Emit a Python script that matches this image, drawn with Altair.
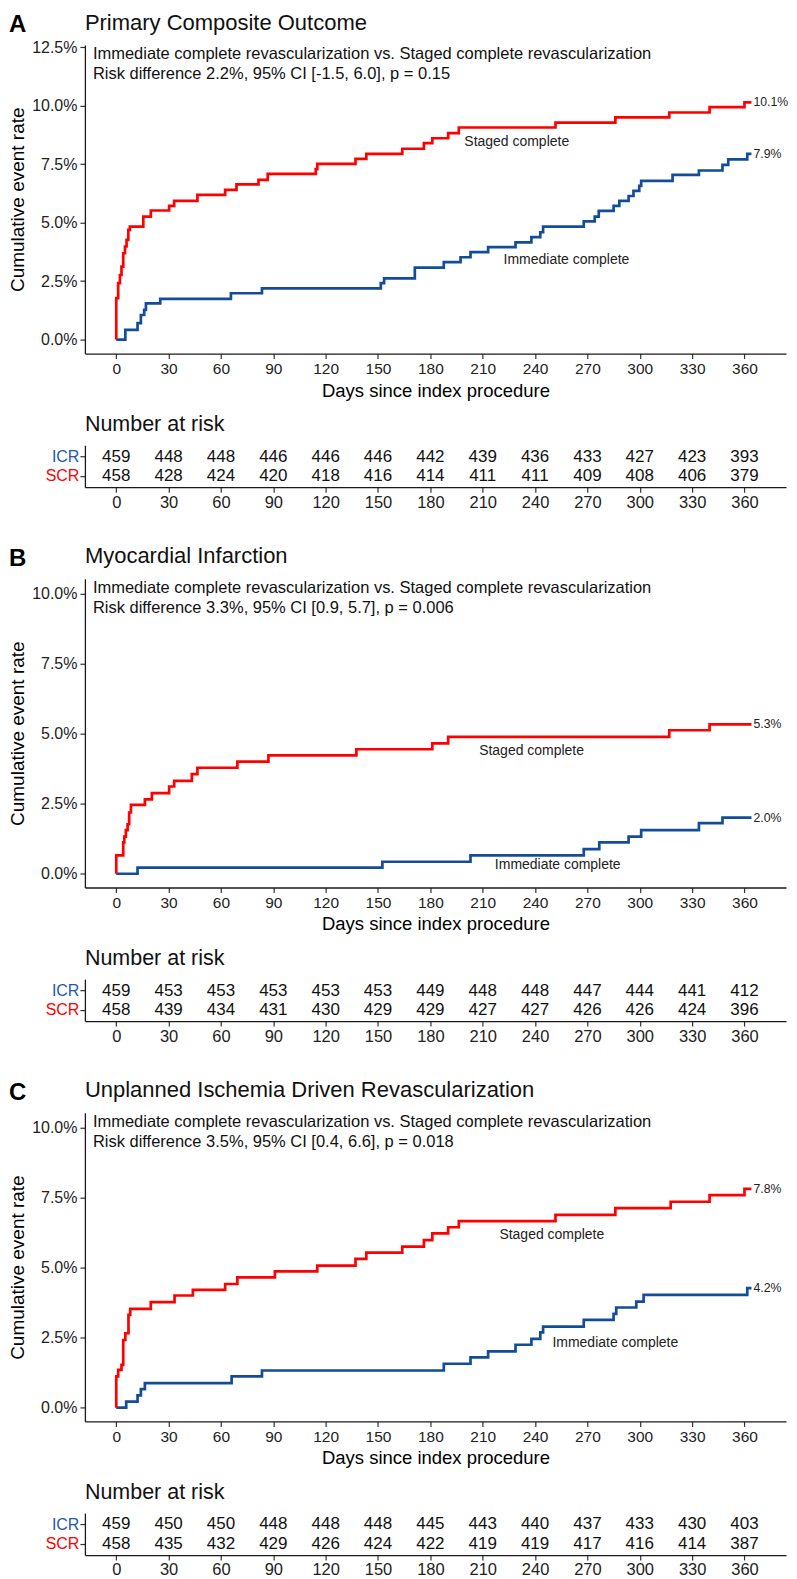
import altair as alt
import pandas as pd

BLUE = "#134d99"
RED = "#ff0000"
FONT = "Liberation Sans"

TICK_DAYS = [0, 30, 60, 90, 120, 150, 180, 210, 240, 270, 300, 330, 360]
GROUPS = ["ICR", "SCR"]
CURVE_NAMES = ["Immediate complete", "Staged complete"]
X_DOMAIN = [-17.97, 383.8]
X_TITLE = "Days since index procedure"
Y_TITLE = "Cumulative event rate"
RISK_TITLE = "Number at risk"

# ---------------- Panel A ----------------
A_LETTER = "A"
A_TITLE = "Primary Composite Outcome"
A_NOTE = ["Immediate complete revascularization vs. Staged complete revascularization",
          "Risk difference 2.2%, 95% CI [-1.5, 6.0], p = 0.15"]
A_ICR_DAY = [0, 5.2, 12.2, 14.1, 16, 17, 25.2, 65.7, 83.5, 151.6, 153.5, 171.1, 187.7, 197.3, 203,
             213.1, 228.8, 237.9, 243, 244.6, 267.9, 274.2, 276.5, 285, 288.3, 293.6, 296.4, 299.7,
             300.8, 318.8, 333.9, 347.4, 350.7, 361.6, 364]
A_ICR_PCT = [0, 0.41, 0.7, 1.05, 1.27, 1.55, 1.74, 1.98, 2.19, 2.41, 2.62, 3.08, 3.31, 3.52, 3.74,
             3.95, 4.16, 4.38, 4.59, 4.83, 5.05, 5.26, 5.5, 5.72, 5.93, 6.14, 6.36, 6.57,
             6.79, 7.04, 7.23, 7.47, 7.71, 7.94, 7.94]
A_SCR_DAY = [0, 0, 1.1, 2.1, 3.0, 4.0, 5.0, 5.9, 6.9, 7.8, 15.5, 19.8, 30.3, 33.2, 46.5, 62.4, 68.9,
             81.5, 86.8, 114.3, 115.2, 137.1, 143.3, 163.9, 176.3, 181.1, 190.2, 196.3, 251.7, 286,
             316.9, 340, 360, 364]
A_SCR_PCT = [0, 1.77, 2.41, 2.76, 3.12, 3.69, 3.98, 4.26, 4.69, 4.83, 5.26, 5.52, 5.72, 5.93, 6.19,
             6.4, 6.64, 6.83, 7.09, 7.29, 7.51, 7.73, 7.94, 8.16, 8.4, 8.61, 8.83, 9.07, 9.28, 9.5,
             9.71, 9.94, 10.14, 10.14]
A_END_LABEL = ["7.9%", "10.1%"]
A_NAME_DAY = [258, 229.5]
A_NAME_PCT = [3.4, 8.46]
A_Y_TICKS = [0, 2.5, 5, 7.5, 10, 12.5]
A_Y_DOMAIN = [-0.6, 12.6]
A_RISK_ICR = [459, 448, 448, 446, 446, 446, 442, 439, 436, 433, 427, 423, 393]
A_RISK_SCR = [458, 428, 424, 420, 418, 416, 414, 411, 411, 409, 408, 406, 379]

# ---------------- Panel B ----------------
B_LETTER = "B"
B_TITLE = "Myocardial Infarction"
B_NOTE = ["Immediate complete revascularization vs. Staged complete revascularization",
          "Risk difference 3.3%, 95% CI [0.9, 5.7], p = 0.006"]
B_ICR_DAY = [0, 12.2, 152.5, 203, 267.9, 276.8, 293.6, 300.8, 333.9, 347.4, 364]
B_ICR_PCT = [0, 0.22, 0.43, 0.66, 0.88, 1.12, 1.33, 1.56, 1.81, 2.01, 2.01]
B_SCR_DAY = [0, 0, 4.0, 4.6, 5.5, 6.5, 7.4, 8.4, 16.4, 20.4, 30.3, 33.2, 43.3, 46.5, 69.4, 87.2,
             137.6, 181.1, 190.2, 316.9, 340, 364]
B_SCR_PCT = [0, 0.66, 1.12, 1.33, 1.56, 1.77, 2.19, 2.46, 2.66, 2.88, 3.12, 3.32, 3.56, 3.79, 4.01,
             4.23, 4.45, 4.66, 4.89, 5.13, 5.34, 5.34]
B_END_LABEL = ["2.0%", "5.3%"]
B_NAME_DAY = [253, 238]
B_NAME_PCT = [0.31, 4.39]
B_Y_TICKS = [0, 2.5, 5, 7.5, 10]
B_Y_DOMAIN = [-0.49, 10.54]
B_RISK_ICR = [459, 453, 453, 453, 453, 453, 449, 448, 448, 447, 444, 441, 412]
B_RISK_SCR = [458, 439, 434, 431, 430, 429, 429, 427, 427, 426, 426, 424, 396]

# ---------------- Panel C ----------------
C_LETTER = "C"
C_TITLE = "Unplanned Ischemia Driven Revascularization"
C_NOTE = ["Immediate complete revascularization vs. Staged complete revascularization",
          "Risk difference 3.5%, 95% CI [0.4, 6.6], p = 0.018"]
C_ICR_DAY = [0, 5.7, 12.2, 14.1, 16.4, 66.1, 83.5, 187.7, 203, 213.1, 228.8, 237.9, 243, 244.6,
             267.9, 285, 286.5, 298, 302.2, 361.6, 364]
C_ICR_PCT = [0, 0.22, 0.44, 0.66, 0.88, 1.12, 1.33, 1.57, 1.8, 2.01, 2.25, 2.46, 2.69, 2.9,
             3.14, 3.35, 3.58, 3.79, 4.03, 4.27, 4.27]
C_SCR_DAY = [0, 0, 1.1, 3, 4, 5.2, 7, 8, 19.8, 33.4, 43.9, 62.4, 69.4, 90.9, 115.2, 137.1, 143.3,
             163.9, 176.3, 181.1, 190.2, 196.3, 251.7, 286, 317.7, 340, 360, 364]
C_SCR_PCT = [0, 1.12, 1.35, 1.53, 2.42, 2.66, 3.32, 3.53, 3.77, 4.01, 4.21, 4.42, 4.66, 4.87, 5.08,
             5.32, 5.54, 5.76, 5.99, 6.23, 6.45, 6.67, 6.89, 7.13, 7.36, 7.6, 7.82, 7.82]
C_END_LABEL = ["4.2%", "7.8%"]
C_NAME_DAY = [286, 249.6]
C_NAME_PCT = [2.31, 6.17]
C_Y_TICKS = [0, 2.5, 5, 7.5, 10]
C_Y_DOMAIN = [-0.49, 10.54]
C_RISK_ICR = [459, 450, 450, 448, 448, 448, 445, 443, 440, 437, 433, 430, 403]
C_RISK_SCR = [458, 435, 432, 429, 426, 424, 422, 419, 419, 417, 416, 414, 387]

PLOT_W = 702
KM_H = 309
RISK_H = 42


def x_scale():
    return alt.Scale(domain=X_DOMAIN, nice=False, zero=False)


def km_chart(letter, title, note, icr_day, icr_pct, scr_day, scr_pct, end_labels,
             name_day, name_pct, yticks, ydomain, note_top):
    rows = []
    for g, days, pcts in ((GROUPS[0], icr_day, icr_pct), (GROUPS[1], scr_day, scr_pct)):
        for i, (d, p) in enumerate(zip(days, pcts)):
            rows.append({"day": d, "pct": p, "group": g, "idx": i})
    df = pd.DataFrame(rows)
    ys = alt.Scale(domain=ydomain, nice=False, zero=False)
    color = alt.Color("group:N", scale=alt.Scale(domain=GROUPS, range=[BLUE, RED]), legend=None)

    lines = alt.Chart(df).mark_line(interpolate="step-after", strokeWidth=2.7).encode(
        x=alt.X("day:Q", scale=x_scale(),
                axis=alt.Axis(values=TICK_DAYS, title=X_TITLE, titleFontSize=18.5,
                              labelFontSize=15.5, labelPadding=3, titlePadding=4,
                              labelFlush=False)),
        y=alt.Y("pct:Q", scale=ys,
                axis=alt.Axis(values=yticks, labelExpr="format(datum.value, '.1f') + '%'",
                              title=Y_TITLE, titleFontSize=19, labelFontSize=16,
                              labelPadding=3, titlePadding=4, labelFlush=False)),
        color=color,
        order="idx:Q",
    )
    end_df = pd.DataFrame({"day": [icr_day[-1], scr_day[-1]],
                           "pct": [icr_pct[-1], scr_pct[-1]],
                           "label": end_labels})
    ends = alt.Chart(end_df).mark_text(align="left", baseline="middle", dx=2, fontSize=12.3,
                                       color="#222222").encode(
        x=alt.X("day:Q", scale=x_scale()), y=alt.Y("pct:Q", scale=ys), text="label:N")
    names_df = pd.DataFrame({"day": name_day, "pct": name_pct, "label": CURVE_NAMES})
    names = alt.Chart(names_df).mark_text(align="center", baseline="middle", fontSize=14,
                                          color="#222222").encode(
        x=alt.X("day:Q", scale=x_scale()), y=alt.Y("pct:Q", scale=ys), text="label:N")
    note_df = pd.DataFrame({"t": ["\n".join(note)]})
    note_mark = alt.Chart(note_df).mark_text(align="left", baseline="top", fontSize=16.5,
                                             lineHeight=20, lineBreak="\n",
                                             color="#111111").encode(
        x=alt.value(8), y=alt.value(note_top), text="t:N")
    letter_df = pd.DataFrame({"t": [letter]})
    letter_mark = alt.Chart(letter_df).mark_text(align="left", baseline="alphabetic",
                                                 fontSize=24, fontWeight="bold",
                                                 color="#000000").encode(
        x=alt.value(-76), y=alt.value(-13), text="t:N")
    return alt.layer(lines, ends, names, note_mark, letter_mark).properties(
        width=PLOT_W, height=KM_H,
        title=alt.Title(title, anchor="start", frame="group", fontSize=22,
                        fontWeight="normal", baseline="alphabetic", offset=-38.6,
                        color="#111111"))


def risk_chart(icr, scr):
    df = pd.DataFrame({"day": TICK_DAYS * 2,
                       "group": [GROUPS[0]] * len(icr) + [GROUPS[1]] * len(scr),
                       "n": icr + scr})
    return alt.Chart(df).mark_text(fontSize=17, baseline="middle", align="center",
                                   color="#111111").encode(
        x=alt.X("day:Q", scale=x_scale(),
                axis=alt.Axis(values=TICK_DAYS, title=None, labelFontSize=16.5,
                              labelPadding=2, labelFlush=False)),
        y=alt.Y("group:N", scale=alt.Scale(type="point", domain=GROUPS, padding=0.59),
                axis=alt.Axis(title=None, labelFontSize=16, labelPadding=1,
                              labelColor=alt.condition("datum.value == 'ICR'",
                                                       alt.value("#1f5aa8"),
                                                       alt.value(RED)))),
        text="n:Q",
    ).properties(
        width=PLOT_W, height=RISK_H,
        title=alt.Title(RISK_TITLE, anchor="start", frame="group", fontSize=21.5,
                        fontWeight="normal", baseline="alphabetic", offset=-7,
                        color="#111111"))


km_a = km_chart(A_LETTER, A_TITLE, A_NOTE, A_ICR_DAY, A_ICR_PCT, A_SCR_DAY, A_SCR_PCT,
                A_END_LABEL, A_NAME_DAY, A_NAME_PCT, A_Y_TICKS, A_Y_DOMAIN, 1)
km_b = km_chart(B_LETTER, B_TITLE, B_NOTE, B_ICR_DAY, B_ICR_PCT, B_SCR_DAY, B_SCR_PCT,
                B_END_LABEL, B_NAME_DAY, B_NAME_PCT, B_Y_TICKS, B_Y_DOMAIN, 1)
km_c = km_chart(C_LETTER, C_TITLE, C_NOTE, C_ICR_DAY, C_ICR_PCT, C_SCR_DAY, C_SCR_PCT,
                C_END_LABEL, C_NAME_DAY, C_NAME_PCT, C_Y_TICKS, C_Y_DOMAIN, 1)
risk_a = risk_chart(A_RISK_ICR, A_RISK_SCR)
risk_b = risk_chart(B_RISK_ICR, B_RISK_SCR)
risk_c = risk_chart(C_RISK_ICR, C_RISK_SCR)

chart = alt.vconcat(km_a, risk_a, km_b, risk_b, km_c, risk_c, spacing=91.8, bounds="flush"
                    ).resolve_scale(x="independent", y="independent", color="independent"
                    ).properties(padding={"left": 0, "top": 2, "right": 0, "bottom": 0}
                    ).configure(font=FONT
                    ).configure_view(stroke="transparent"
                    ).configure_axis(domainColor="#1a1a1a", domainWidth=1.3,
                                     tickColor="#333333", tickWidth=1.2, tickSize=5,
                                     labelColor="#222222", titleColor="#000000",
                                     titleFontWeight="normal", grid=False,
                                     labelFont=FONT, titleFont=FONT)

chart.save("out.html", embed_options={"renderer": "svg", "actions": False})
